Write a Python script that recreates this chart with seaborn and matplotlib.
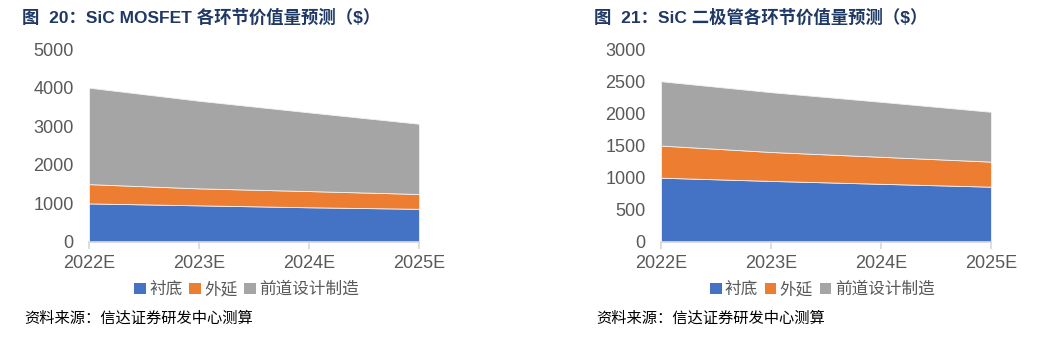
import matplotlib
matplotlib.use('Agg')
import matplotlib.pyplot as plt
import seaborn as sns
from matplotlib.patches import Patch

years = ['2022E', '2023E', '2024E', '2025E']
series_names = ['衬底', '外延', '前道设计制造']

# SiC MOSFET
mosfet_substrate = [1000, 950, 900, 860]
mosfet_epi = [500, 440, 420, 385]
mosfet_front = [2500, 2270, 2040, 1820]

# SiC diode
diode_substrate = [1000, 950, 905, 860]
diode_epi = [500, 450, 420, 390]
diode_front = [1000, 930, 855, 775]

colors = ['#4472C4', '#ED7D31', '#A5A5A5']
tick_color = '#595959'
title_color = '#1F3864'

sns.set_theme(style='white')
plt.rcParams['font.family'] = ['Noto Sans CJK SC', 'DejaVu Sans']

fig = plt.figure(figsize=(10.5, 3.52), dpi=100)


def draw(rect, stacks, ymax, ystep, title, title_x, legend_x):
    ax = fig.add_axes(rect)
    x = list(range(len(years)))
    ax.stackplot(x, *stacks, colors=colors, edgecolor='#f2f2f2', linewidth=0.6)
    ax.set_xlim(0, len(years) - 1)
    ax.set_ylim(0, ymax)
    ax.set_yticks(range(0, ymax + 1, ystep))
    ax.set_xticks(x)
    ax.set_xticklabels(years)
    for lbl in ax.get_xticklabels() + ax.get_yticklabels():
        lbl.set_fontfamily(['Liberation Sans', 'DejaVu Sans'])
        lbl.set_fontsize(13)
        lbl.set_color(tick_color)
    sns.despine(ax=ax, left=True)
    ax.spines['bottom'].set_color('#d9d9d9')
    ax.tick_params(axis='x', length=5, color='#d9d9d9', direction='out', bottom=True, pad=4)
    ax.tick_params(axis='y', length=0, pad=11)
    ax.grid(False)

    fig.text(title_x, 0.95, title, fontsize=12.5, fontweight='bold', color=title_color,
             ha='left', va='center', family=['Liberation Sans', 'Noto Sans CJK SC'])
    handles = [Patch(facecolor=c, edgecolor='none') for c in colors]
    fig.legend(handles, series_names, loc='center', bbox_to_anchor=(legend_x, 0.177),
               ncol=3, frameon=False, fontsize=12, labelcolor=tick_color,
               handlelength=0.7, handleheight=0.7, handletextpad=0.2, columnspacing=0.4)
    fig.text(title_x + 0.002, 0.097, '资料来源：信达证券研发中心测算', fontsize=11,
             style='italic', color='black', ha='left', va='center')
    return ax


draw([0.0848, 0.3125, 0.3143, 0.548],
     [mosfet_substrate, mosfet_epi, mosfet_front], 5000, 1000,
     '图  20：SiC MOSFET 各环节价值量预测（$）', 0.021, 0.235)
draw([0.6295, 0.3125, 0.3143, 0.548],
     [diode_substrate, diode_epi, diode_front], 3000, 500,
     '图  21：SiC 二极管各环节价值量预测（$）', 0.566, 0.783)

fig.savefig('out.png', dpi=100)
